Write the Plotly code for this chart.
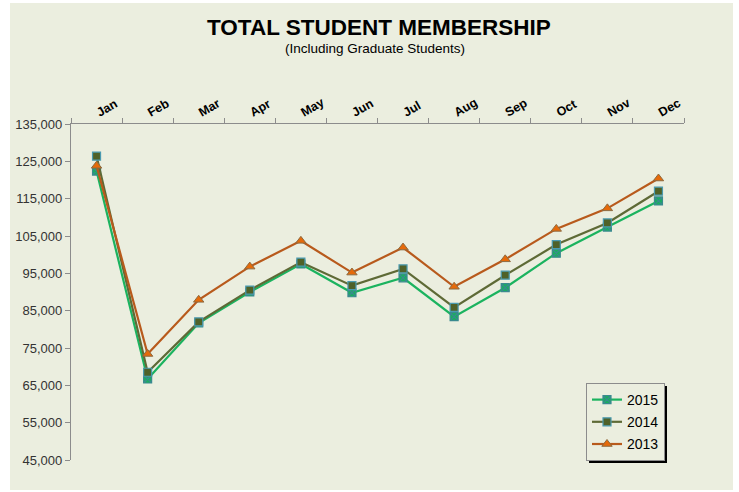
import plotly.graph_objects as go

months = ["Jan", "Feb", "Mar", "Apr", "May", "Jun", "Jul", "Aug", "Sep", "Oct", "Nov", "Dec"]
y2015 = [122400, 66700, 81700, 90000, 97500, 89800, 93800, 83400, 91150, 100400, 107400, 114400]
y2014 = [126400, 68500, 82000, 90500, 98000, 91700, 96200, 85900, 94500, 102700, 108500, 117000]
y2013 = [123800, 73400, 87900, 96800, 103700, 95200, 101900, 91400, 98750, 106900, 112400, 120400]
y_ticks = [45000, 55000, 65000, 75000, 85000, 95000, 105000, 115000, 125000, 135000]

BG = "#EBEEDF"
W, H = 739, 492
L, R, T, B = 71, 55, 124, 32
PW, PH = W - L - R, H - T - B

def px2paper(x, y):
    return (x - L) / PW, (H - B - y) / PH

fig = go.Figure()
fig.add_trace(go.Scatter(
    x=months, y=y2015, name="2015", mode="lines+markers", legendgroup="a",
    line=dict(color="#1BB35F", width=2.2),
    marker=dict(symbol="square-x", size=8, color="#1AAE5F", line=dict(color="#3A8A8F", width=1.2)),
))
fig.add_trace(go.Scatter(
    x=months, y=y2014, name="2014", mode="lines+markers", legendgroup="b",
    line=dict(color="#5E6A36", width=2.2),
    marker=dict(symbol="square", size=8, color="#4F6128", line=dict(color="#4A9AB0", width=1.2)),
))
fig.add_trace(go.Scatter(
    x=months, y=y2013, name="2013", mode="lines+markers", legendgroup="c",
    line=dict(color="#B85A1C", width=2.2),
    marker=dict(symbol="triangle-up", size=9, color="#E56A0A", line=dict(color="#8C6A40", width=1)),
))

# legend box geometry (px)
LG_L, LG_T, LG_W, LG_H = 586, 383, 78, 77

x0, y0 = px2paper(10, 3)
x1, y1 = px2paper(733, 490)
sx0, sy0 = px2paper(LG_L + 3, LG_T + 3)
sx1, sy1 = px2paper(LG_L + LG_W + 3, LG_T + LG_H + 3)
fig.update_layout(
    shapes=[
        dict(type="rect", xref="paper", yref="paper", x0=x0, x1=x1, y0=y1, y1=y0,
             fillcolor=BG, line=dict(width=0), layer="below"),
        dict(type="rect", xref="paper", yref="paper", x0=sx0, x1=sx1, y0=sy1, y1=sy0,
             fillcolor="#000000", line=dict(width=0), layer="above"),
    ]
)

fig.update_layout(
    width=W, height=H,
    margin=dict(l=L, r=R, t=T, b=B),
    paper_bgcolor="white",
    plot_bgcolor=BG,
    font=dict(family="Liberation Sans, Arial, sans-serif", color="#000000"),
    showlegend=True,
    legend=dict(
        x=(LG_L - L) / PW, y=(H - B - LG_T) / PH, xanchor="left", yanchor="top",
        bgcolor=BG, bordercolor="#8C8C8C", borderwidth=1,
        font=dict(size=14, color="#000000"),
        tracegroupgap=1, itemwidth=30,
    ),
    annotations=[
        dict(text="<b>TOTAL STUDENT MEMBERSHIP</b>", xref="paper", yref="paper",
             x=(379 - L) / PW, y=(H - B - 28) / PH, xanchor="center", yanchor="middle",
             showarrow=False, font=dict(size=22.5, color="#000000")),
        dict(text="(Including Graduate Students)", xref="paper", yref="paper",
             x=(375 - L) / PW, y=(H - B - 49) / PH, xanchor="center", yanchor="middle",
             showarrow=False, font=dict(size=13.5, color="#000000")),
    ],
)

fig.update_xaxes(
    type="category", side="top", range=[-0.5, 11.5],
    showline=True, linecolor="#8C8C8C", linewidth=1.3,
    ticks="outside", tickson="boundaries", ticklen=5, tickcolor="#8C8C8C",
    tickangle=-30, tickfont=dict(size=12.5, color="#000000", weight="bold"),
    showgrid=False, zeroline=False,
)
fig.update_yaxes(
    range=[45000, 135000], tickvals=y_ticks, tickformat=",",
    showline=True, linecolor="#8C8C8C", linewidth=1.3,
    ticks="outside", ticklen=5, tickcolor="#8C8C8C",
    tickfont=dict(size=13, color="#333333"),
    showgrid=False, zeroline=False,
)

fig.write_html("out.html", config={"displayModeBar": False},
               post_script="document.body.style.margin='0';")
